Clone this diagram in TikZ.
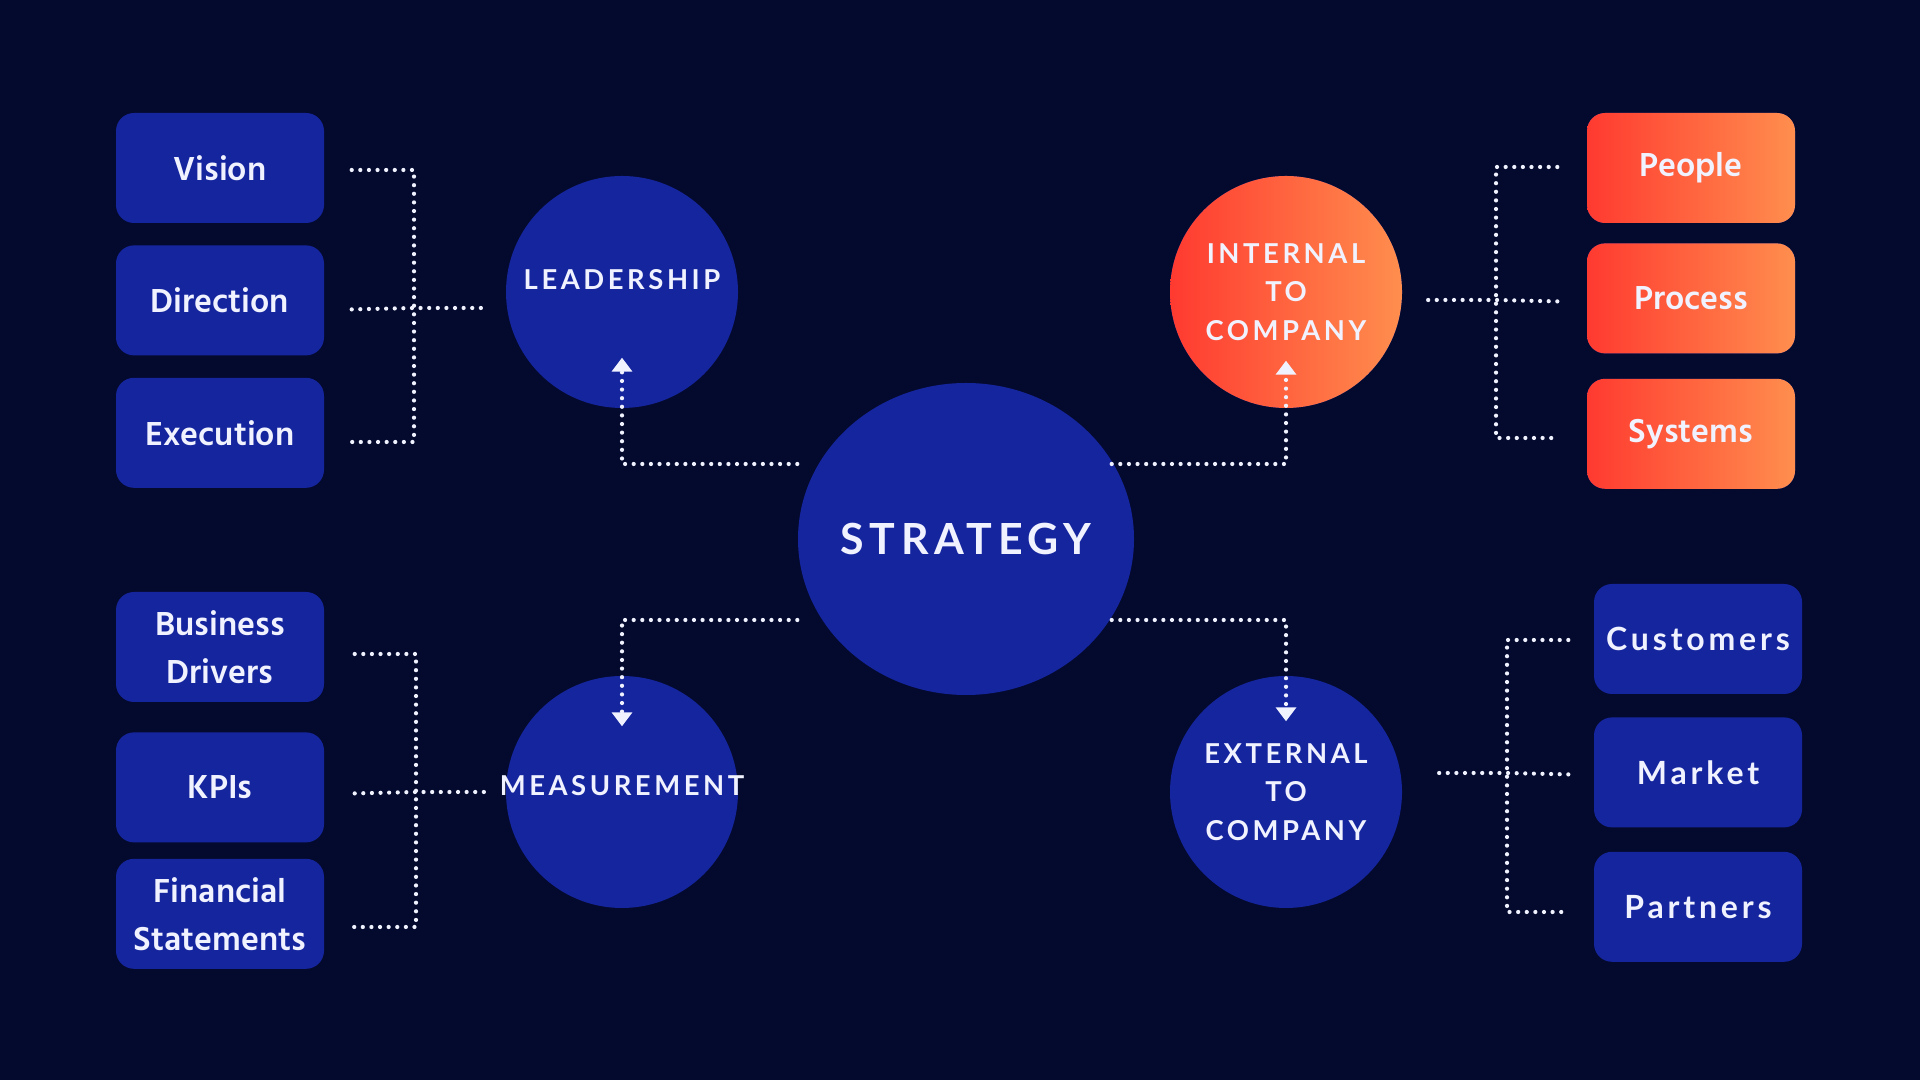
\documentclass[tikz,border=0pt]{standalone}
\usepackage{fontspec}
\setmainfont{Lato}
\newfontfamily\boxfont{Hind Siliguri}
\newfontfamily\capsfont[LetterSpace=13]{Lato}
\newfontfamily\widefont[LetterSpace=12]{Lato}
\usetikzlibrary{shapes.geometric, arrows.meta, positioning}
\definecolor{bgnavy}{RGB}{4,10,46}
\definecolor{nodeblue}{RGB}{21,37,158}
\definecolor{nodered}{RGB}{255,58,48}
\definecolor{nodeorange}{RGB}{255,142,78}
\definecolor{textwhite}{RGB}{240,242,255}

\begin{document}
\begin{tikzpicture}[
  box/.style={rectangle, rounded corners=0.18cm, fill=nodeblue, text=textwhite,
              minimum width=2.08cm, minimum height=1.10cm, inner sep=0pt,
              align=center, font=\boxfont\bfseries\fontsize{9.7}{13.6}\selectfont},
  hotbox/.style={box, left color=nodered, right color=nodeorange},
  widebox/.style={box, font=\widefont\bfseries\fontsize{9.1}{12}\selectfont},
  hub/.style={circle, minimum size=2.32cm, inner sep=-4mm, fill=nodeblue,
              text=textwhite, align=center,
              font=\capsfont\bfseries\fontsize{7.8}{10.9}\selectfont},
  dots/.style={draw=textwhite, line width=1.2pt, line cap=round,
               dash pattern=on 0pt off 2.45pt},
  arr/.style={dots, -{Triangle[width=2mm, length=1.4mm]}},
]
  \fill[bgnavy] (0,0) rectangle (19.2,10.8);
  \useasboundingbox (0,0) rectangle (19.2,10.8);

  % centre and the four branches
  \node[hub, ellipse, minimum width=3.36cm, minimum height=3.12cm,
        font=\capsfont\bfseries\fontsize{12.2}{14}\selectfont] (strategy) at (9.66,5.41) {STRATEGY};
  \node[hub, text depth=2.6mm] (leadership) at (6.22,7.88) {LEADERSHIP};
  \node[hub, left color=nodered, right color=nodeorange] (internal) at (12.86,7.88) {INTERNAL\\TO\\COMPANY};
  \node[hub, text depth=1.4mm] (measurement) at (6.22,2.88) {MEASUREMENT};
  \node[hub] (external) at (12.86,2.88) {EXTERNAL\\TO\\COMPANY};

  % leaves
  \node[box] (vision) at (2.20,9.12) {Vision};
  \node[box, below=0.21cm of vision]    (direction) {Direction};
  \node[box, below=0.21cm of direction] (execution) {Execution};

  \node[box] (drivers) at (2.20,4.33) {Business\\Drivers};
  \node[box, below=0.29cm of drivers] (kpis)       {KPIs};
  \node[box, below=0.15cm of kpis]    (financials) {Financial\\Statements};

  \node[hotbox] (people) at (16.91,9.12) {People};
  \node[hotbox, below=0.19cm of people]  (process) {Process};
  \node[hotbox, below=0.24cm of process] (systems) {Systems};

  \node[widebox] (customers) at (16.98,4.41) {Customers};
  \node[widebox, below=0.22cm of customers] (market)   {Market};
  \node[widebox, below=0.23cm of market]    (partners) {Partners};

  % bracket bars
  \coordinate (lt top) at (4.14,9.10);  \coordinate (lt mid) at (4.14,7.72);  \coordinate (lt bot) at (4.14,6.38);
  \coordinate (lb top) at (4.16,4.26);  \coordinate (lb mid) at (4.16,2.88);  \coordinate (lb bot) at (4.16,1.53);
  \coordinate (rt top) at (14.96,9.13); \coordinate (rt mid) at (14.96,7.80); \coordinate (rt bot) at (14.96,6.42);
  \coordinate (rb top) at (15.07,4.40); \coordinate (rb mid) at (15.07,3.07); \coordinate (rb bot) at (15.07,1.68);

  \draw[dots] (vision.east) ++(0.27,-0.02) -- (lt top) -- (lt bot) -- ++(-0.63,0);
  \draw[dots] (direction.east) ++(0.27,-0.09) -- (lt mid) -- ++(0.72,0);

  \draw[dots] (drivers.east) ++(0.30,-0.07) -- (lb top) -- (lb bot) -- ++(-0.62,0);
  \draw[dots] (kpis.east) ++(0.30,-0.06) -- (lb mid) -- ++(0.73,0);

  \draw[dots] (people.west) ++(-0.29,0.01) -- (rt top) -- (rt bot) -- ++(0.62,0);
  \draw[dots] (process.west) ++(-0.29,-0.03) -- (rt mid) -- ++(-0.72,0);

  \draw[dots] (customers.west) ++(-0.25,-0.01) -- (rb top) -- (rb bot) -- ++(0.62,0);
  \draw[dots] (market.west) ++(-0.25,-0.02) -- (rb mid) -- ++(-0.72,0);

  % strategy to branches
  \draw[arr] (strategy.west) ++(0,0.75)      -| ([yshift=5.1mm]leadership.south);
  \draw[arr] (strategy.east) ++(-0.23,0.75)  -| ([yshift=4.8mm]internal.south);
  \draw[arr] (strategy.west) ++(0,-0.81)     -| ([yshift=-5.1mm]measurement.north);
  \draw[arr] (strategy.east) ++(-0.23,-0.81) -| ([yshift=-4.6mm]external.north);
\end{tikzpicture}
\end{document}
